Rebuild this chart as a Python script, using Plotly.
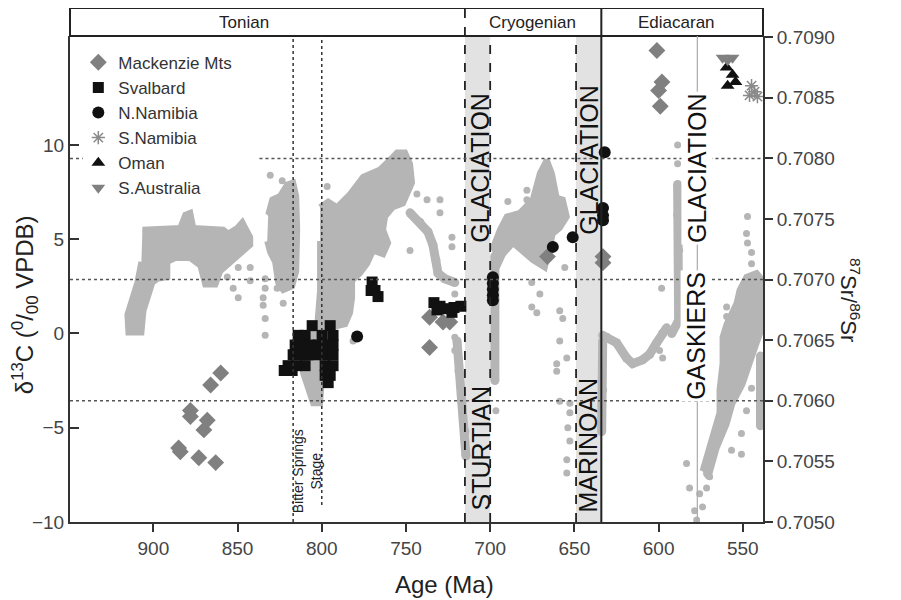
import plotly.graph_objects as go

# ---------------- data ----------------
# δ13C compilation (grey cloud) - outlines of dense areas (age Ma, δ13C ‰)
t1_age = [906.5, 889.9, 884.0, 881.0, 878.1, 876.3, 862.1, 858.5, 855.5, 850.2, 847.2, 845.4, 842.5, 842.5,
          846.6, 853.2, 860.3, 863.2, 869.2, 872.1, 878.1, 887.0, 891.7, 891.7, 897.6, 900.6, 903.0, 905.9,
          907.1, 914.8, 915.4, 912.5, 909.5, 907.1]
t1_d13c = [5.5, 5.6, 5.6, 6.3, 6.4, 5.6, 5.5, 5.5, 5.3, 5.6, 5.9, 5.6, 5.1, 4.7, 4.4, 3.9, 3.3, 2.6, 2.6, 3.6,
           4.0, 4.0, 3.8, 3.0, 2.9, 2.7, 2.1, 1.2, 0.05, 0.05, 1.0, 1.9, 2.7, 3.8]

t2_age = [831.8, 829.4, 824.7, 820.5, 817.0, 815.2, 814.6, 815.2, 817.6, 822.9, 825.9, 827.7, 830.6, 832.4]
t2_d13c = [6.3, 7.1, 7.3, 7.9, 8.0, 7.3, 5.5, 3.3, 2.5, 2.3, 2.7, 3.8, 4.3, 4.9]

t3_age = [801.0, 796.2, 790.9, 783.2, 775.5, 771.3, 765.4, 759.5, 755.3, 750.6, 747.6, 746.4, 751.8, 757.7,
          762.4, 763.6, 760.6, 763.6, 769.5, 773.1, 777.3, 782.0, 782.0, 783.2, 786.1, 790.9, 793.3, 799.2,
          801.0, 805.1, 811.1, 811.1, 802.8, 801.0, 801.0]
t3_d13c = [6.7, 7.0, 6.7, 7.4, 8.3, 8.5, 8.7, 9.2, 9.6, 9.6, 9.0, 8.0, 6.9, 6.7, 6.2, 5.5, 4.8, 4.2, 4.4, 3.7,
           3.2, 2.8, 1.9, 1.1, 0.5, 0.4, 0.8, -1.4, -3.7, -3.7, -2.1, -0.7, 0.3, 2.3, 4.9]

c1_age = [699.0, 694.2, 690.1, 682.4, 674.7, 670.5, 666.4, 663.4, 660.5, 656.9, 654.5, 658.7, 662.8, 667.6,
          674.7, 680.6, 686.5, 692.4, 696.0]
c1_d13c = [4.4, 5.5, 6.2, 6.4, 7.1, 8.5, 9.2, 8.5, 7.2, 7.1, 6.2, 5.6, 5.3, 3.5, 3.9, 4.4, 4.8, 4.2, 3.5]

e1_age = [573.9, 568.0, 563.8, 563.8, 562.0, 562.0, 559.6, 553.7, 551.9, 547.8, 541.8, 538.9, 538.9, 541.8,
          546.0, 550.2, 556.1, 559.6, 565.6, 569.7, 572.7]
e1_d13c = [-7.3, -5.5, -4.2, -3.0, -1.6, -0.2, 0.5, 1.6, 2.3, 3.0, 3.2, 2.9, 0.2, -0.5, -1.6, -2.7, -3.7, -4.8,
           -6.1, -7.4, -7.6]

# δ13C compilation - narrow trends
branch_age = [747.6, 741.7, 737.0, 734.0, 732.2, 731.0, 726.9, 721.0]
branch_d13c = [6.4, 5.9, 5.4, 4.7, 3.9, 3.2, 2.9, 2.7]
presturt_age = [719.7, 718.5, 716.8, 715.0, 714.4]
presturt_d13c = [-0.4, -2.0, -3.6, -5.2, -6.5]
poststurt_age = [697.2, 697.2, 697.4, 697.2]
poststurt_d13c = [4.1, 1.8, -0.4, -2.5]
marinoan_age = [633.2, 633.2, 633.8]
marinoan_d13c = [-0.4, -3.0, -5.2]
ediac_age = [633.2, 630.8, 624.9, 619.0, 615.4, 609.5, 605.3, 601.2, 597.6, 595.2]
ediac_d13c = [-0.1, -0.2, -0.5, -1.3, -1.6, -1.4, -1.1, -0.5, 0.0, 0.3]
gaskcol_age = [588.7, 588.7, 588.1, 587.5, 588.1, 592.2]
gaskcol_d13c = [7.9, 6.3, 4.4, 2.3, 0.7, 0.0]
edge_age = [539.5, 539.5]
edge_d13c = [-1.2, -4.9]

# δ13C compilation - isolated points
dots_age = [863.2, 856.1, 852.6, 849.6, 849.6, 842.5, 842.5, 833.6, 833.6, 834.8, 834.8, 833.6, 833.6, 826.5,
            822.9, 830.6, 823.5, 830.6, 796.8, 781.4, 743.5, 737.5, 729.8, 729.8, 722.7, 722.7, 747.6, 721.0,
            721.0, 721.0, 678.2, 678.2, 689.5, 655.7, 675.3, 670.5, 675.3, 672.3, 658.7, 656.9, 658.7, 654.5,
            660.5, 660.5, 658.7, 652.7, 652.7, 653.9, 652.7, 654.5, 654.5, 696.6, 597.6, 599.4, 588.7, 588.7,
            598.2, 583.4, 581.6, 578.6, 577.4, 575.6, 573.9, 571.5, 569.7, 547.2, 547.8, 547.2, 544.8, 544.8,
            559.6, 559.6, 544.8, 547.8, 550.8, 550.8, 556.7]
dots_d13c = [2.7, 3.0, 2.4, 1.9, 3.5, 3.5, 2.8, 2.9, 2.4, 1.9, 1.5, 0.8, -0.1, 2.4, 1.6, 8.4, 8.1, 6.4, 7.8,
             -0.4, 7.4, 7.1, 7.1, 6.4, 5.1, 4.6, 4.4, 2.1, -0.2, -0.9, 7.6, 7.1, 7.0, 3.5, 2.7, 2.1, 1.4, 1.1,
             1.2, 0.8, -0.4, -1.3, -1.6, -2.0, -3.6, -3.7, -4.2, -5.0, -5.7, -6.7, -7.4, -4.1, -1.3, -0.9, 10.0,
             9.0, 2.4, -6.9, -8.2, -9.4, -9.9, -8.5, -9.2, -8.2, -7.6, 6.2, 5.3, 4.8, 4.3, 3.7, 1.4, 0.9, -2.9,
             -4.1, -5.3, -6.4, -6.2]

# 87Sr/86Sr data
mack_age = [860, 866, 878, 878, 868, 870, 885, 884, 873, 863, 736, 728, 724, 736, 666, 633, 633, 601, 598, 600, 599]
mack_sr = [0.70623, 0.70613, 0.70592, 0.70587, 0.70584, 0.70576, 0.70561, 0.70558, 0.70553, 0.70549, 0.70669,
           0.70665, 0.70665, 0.70644, 0.70719, 0.70719, 0.70714, 0.70889, 0.70863, 0.70856, 0.70843]
sval_age = [805.7, 795.0, 814.0, 809.9, 799.8, 793.3, 815.8, 811.1, 806.9, 802.2, 797.4, 793.3, 817.0, 812.8,
            808.1, 803.4, 798.0, 793.3, 820.0, 815.2, 809.9, 798.0, 793.3, 822.3, 817.6, 798.0, 795.0, 796.2,
            770.1, 770.7, 768.4, 766.6, 733.4, 729.8, 725.7, 721.5, 717.4, 731.6, 722.7]
sval_sr = [0.70662, 0.70662, 0.70654, 0.70654, 0.70654, 0.70654, 0.70646, 0.70646, 0.70646, 0.70646, 0.70646,
           0.70646, 0.70638, 0.70638, 0.70638, 0.70638, 0.70638, 0.70638, 0.70629, 0.70629, 0.70629, 0.70629,
           0.70629, 0.70625, 0.70625, 0.70621, 0.70621, 0.70615, 0.70698, 0.70691, 0.70691, 0.70686, 0.70681,
           0.70678, 0.70676, 0.70677, 0.70678, 0.70675, 0.70673]
nnam_age = [779, 698.4, 698.4, 698.4, 698.4, 698.4, 662.8, 651, 632, 633, 633, 633]
nnam_sr = [0.70653, 0.70702, 0.70697, 0.70692, 0.70687, 0.70683, 0.70727, 0.70735, 0.70805, 0.70759, 0.70753,
           0.70749]
snam_age = [544.8, 543.0, 541.3, 546.0]
snam_sr = [0.70860, 0.70855, 0.70851, 0.70852]
oman_age = [559.6, 556.1, 559.0, 554.3]
oman_sr = [0.70875, 0.70869, 0.70860, 0.70863]
saus_age = [562.0, 556.1, 559.0]
saus_sr = [0.70883, 0.70883, 0.70881]

periods = ["Tonian", "Cryogenian", "Ediacaran"]
x_ticks = [900, 850, 800, 750, 700, 650, 600, 550]
y_ticks = [-10, -5, 0, 5, 10]
sr_ticks = [0.7050, 0.7055, 0.7060, 0.7065, 0.7070, 0.7075, 0.7080, 0.7085, 0.7090]

# ---------------- figure ----------------
GREY = "#b5b5b5"
FONT = "Liberation Sans, Arial, sans-serif"
fig = go.Figure()

for ax, ay in [(t1_age, t1_d13c), (t2_age, t2_d13c), (t3_age, t3_d13c), (c1_age, c1_d13c), (e1_age, e1_d13c)]:
    fig.add_trace(go.Scatter(x=ax, y=ay, mode="lines", fill="toself", fillcolor=GREY,
                             line=dict(color=GREY, width=6), showlegend=False, hoverinfo="skip"))

for ax, ay in [(branch_age, branch_d13c), (presturt_age, presturt_d13c), (poststurt_age, poststurt_d13c),
               (marinoan_age, marinoan_d13c), (ediac_age, ediac_d13c), (gaskcol_age, gaskcol_d13c),
               (edge_age, edge_d13c)]:
    fig.add_trace(go.Scatter(x=ax, y=ay, mode="lines+markers", line=dict(color=GREY, width=9),
                             marker=dict(color=GREY, size=9), showlegend=False, hoverinfo="skip"))

fig.add_trace(go.Scatter(x=dots_age, y=dots_d13c, mode="markers", marker=dict(color=GREY, size=7),
                         showlegend=False, hoverinfo="skip"))

sym_traces = [
    ("Mackenzie Mts", mack_age, mack_sr, "diamond", "#808080", 13),
    ("Svalbard", sval_age, sval_sr, "square", "#111111", 11),
    ("N.Namibia", nnam_age, nnam_sr, "circle", "#111111", 12),
    ("S.Namibia", snam_age, snam_sr, "asterisk-open", "#8a8a8a", 11),
    ("Oman", oman_age, oman_sr, "triangle-up", "#111111", 12),
    ("S.Australia", saus_age, saus_sr, "triangle-down", "#808080", 12),
]
for name, ax, ay, sym, col, sz in sym_traces:
    mk = dict(symbol=sym, color=col, size=sz)
    if sym == "asterisk-open":
        mk["line"] = dict(color=col, width=1.5)
    fig.add_trace(go.Scatter(x=ax, y=ay, mode="markers", name=name, yaxis="y2", marker=mk))

H = 1.0576  # top of period header (paper)
shapes = []
# glaciation bands
for a, b in [(715, 700), (649, 634)]:
    shapes.append(dict(type="rect", xref="x", yref="paper", x0=a, x1=b, y0=0, y1=1,
                       fillcolor="#e2e2e2", line=dict(width=0), layer="below"))
# header box
shapes += [
    dict(type="line", xref="paper", yref="paper", x0=0, x1=1, y0=1, y1=1, line=dict(color="#222", width=2)),
    dict(type="line", xref="paper", yref="paper", x0=0, x1=1, y0=H, y1=H, line=dict(color="#222", width=2)),
    dict(type="line", xref="paper", yref="paper", x0=0, x1=0, y0=1, y1=H, line=dict(color="#222", width=2)),
    dict(type="line", xref="paper", yref="paper", x0=1, x1=1, y0=1, y1=H, line=dict(color="#222", width=2)),
]
# period / glaciation boundaries
shapes += [
    dict(type="line", xref="x", yref="paper", x0=715, x1=715, y0=0, y1=H, line=dict(color="#222", width=1.8, dash="dash")),
    dict(type="line", xref="x", yref="paper", x0=700, x1=700, y0=0, y1=1, line=dict(color="#222", width=1.8, dash="dash")),
    dict(type="line", xref="x", yref="paper", x0=649, x1=649, y0=0, y1=1, line=dict(color="#222", width=1.8, dash="dash")),
    dict(type="line", xref="x", yref="paper", x0=634, x1=634, y0=0, y1=H, line=dict(color="#222", width=2)),
    dict(type="line", xref="x", yref="paper", x0=577, x1=577, y0=0, y1=1, line=dict(color="#aaaaaa", width=1.2)),
    dict(type="line", xref="x", yref="paper", x0=817, x1=817, y0=0, y1=1, line=dict(color="#333", width=1.5, dash="dot")),
    dict(type="line", xref="x", yref="y", x0=800, x1=800, y0=-9.1, y1=15.78, line=dict(color="#333", width=1.5, dash="dot")),
]
# Sr reference lines
for xa, xb, s in [(949.5, 942, 0.7080), (837, 538, 0.7080), (949.5, 538, 0.7070), (949.5, 538, 0.7060)]:
    shapes.append(dict(type="line", xref="x", yref="y2", x0=xa, x1=xb, y0=s, y1=s,
                       line=dict(color="#555", width=1.5, dash="dot")))

C = dict(xanchor="center", yanchor="middle", showarrow=False)
ann = []
for label, xp in zip(periods, [0.251, 0.6667, 0.8745]):
    ann.append(dict(text=label, xref="paper", yref="paper", x=xp, y=1.0288,
                    font=dict(size=17, color="#222"), **C))
for txt, x, y, bg in [("GLACIATION", 706, 8.8, None), ("STURTIAN", 705.5, -6.05, None),
                      ("GLACIATION", 641.5, 9.2, None), ("MARINOAN", 642, -5.9, None),
                      ("GLACIATION", 577.5, 8.8, "white"), ("GASKIERS", 577.5, -0.1, "white")]:
    d = dict(text=txt, x=x, y=y, xref="x", yref="y", textangle=-90,
             font=dict(size=25, color="#111"), **C)
    if bg:
        d["bgcolor"] = bg
    ann.append(d)
ann.append(dict(text="Bitter Springs<br>Stage", x=808.7, y=-7.3, xref="x", yref="y",
                textangle=-90, font=dict(size=14, color="#222"), **C))
ann.append(dict(text="δ<sup>13</sup>C (<sup>0</sup>/<sub>00</sub> VPDB)", xref="paper", yref="paper",
                x=-0.065, y=0.448, textangle=-90, font=dict(size=24, color="#222"), **C))
ann.append(dict(text="<sup>87</sup>Sr/<sup>86</sup>Sr", xref="paper", yref="paper",
                x=1.1255, y=0.457, textangle=90, font=dict(size=22, color="#222"), **C))
ann.append(dict(text="Age (Ma)", xref="paper", yref="paper", x=0.5397, y=-0.1296,
                font=dict(size=24, color="#222"), **C))

fig.update_layout(
    width=901, height=600,
    # the page body adds an 8 px offset; margins compensate so the plot area sits at x 70-763, y 36-522
    margin=dict(l=62, r=146, t=28, b=86, autoexpand=False),
    paper_bgcolor="white", plot_bgcolor="white",
    font=dict(family=FONT, size=19, color="#444"),
    xaxis=dict(range=[949.5, 538], tickvals=x_ticks, ticks="outside", ticklen=8, tickwidth=1.5,
               tickcolor="#333", showline=True, linecolor="#333", linewidth=2, showgrid=False,
               zeroline=False, tickfont=dict(size=19, color="#444")),
    yaxis=dict(range=[-10, 15.78], tickvals=y_ticks, ticks="inside", ticklen=9, tickwidth=1.5,
               tickcolor="#333", showline=True, linecolor="#333", linewidth=2, showgrid=False,
               zeroline=False, tickfont=dict(size=19, color="#444")),
    yaxis2=dict(range=[0.7050, 0.70901], overlaying="y", side="right", tickvals=sr_ticks,
                ticktext=[f"{v:.4f}" for v in sr_ticks], ticks="outside", ticklen=8, tickwidth=1.5,
                tickcolor="#333", showline=True, linecolor="#333", linewidth=2, showgrid=False,
                zeroline=False, tickfont=dict(size=19, color="#444")),
    legend=dict(x=0.012, y=0.982, xanchor="left", yanchor="top", bgcolor="rgba(0,0,0,0)",
                font=dict(size=17, color="#333")),
    shapes=shapes, annotations=ann,
)

fig.write_html("out.html")
